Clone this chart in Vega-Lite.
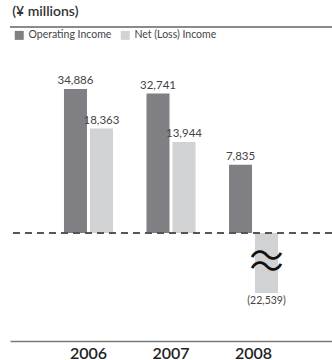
{
  "$schema": "https://vega.github.io/schema/vega-lite/v6.json",
  "width": 322,
  "height": 268,
  "autosize": "none",
  "padding": {"left": 10, "top": 25, "right": 0, "bottom": 67},
  "background": "white",
  "title": {"text": "(¥ millions)", "anchor": "start", "dx": 3, "offset": 6, "fontSize": 14, "fontWeight": 600, "font": "Lato", "color": "#333"},
  "data": {"values": [
    {"year": "2006", "series": "Operating Income", "value": 34886},
    {"year": "2006", "series": "Net (Loss) Income", "value": 18363},
    {"year": "2007", "series": "Operating Income", "value": 32741},
    {"year": "2007", "series": "Net (Loss) Income", "value": 13944},
    {"year": "2008", "series": "Operating Income", "value": 7835},
    {"year": "2008", "series": "Net (Loss) Income", "value": -22539}
  ]},
  "transform": [
    {"calculate": "datum.value < 0 ? '(' + format(-datum.value, ',') + ')' : format(datum.value, ',')", "as": "label"}
  ],
  "layer": [
    {
      "mark": {"type": "bar"},
      "encoding": {
        "x": {"field": "year", "type": "nominal", "scale": {"paddingInner": 0.406, "paddingOuter": 0.654},
              "axis": {"orient": "bottom", "offset": 48, "title": null, "labelAngle": 0, "ticks": false, "domainColor": "#7a7a7a", "domainWidth": 1.5, "labelFont": "Lato", "labelFontSize": 16, "labelFontWeight": 600, "labelColor": "#222", "labelPadding": 4}},
        "xOffset": {"field": "series", "sort": ["Operating Income", "Net (Loss) Income"], "scale": {"paddingInner": 0.115, "paddingOuter": 0}},
        "y": {"field": "value", "type": "quantitative", "scale": {"type": "sqrt", "domain": [-6055, 72800], "clamp": true, "nice": false}, "axis": null},
        "color": {"field": "series", "type": "nominal", "sort": ["Operating Income", "Net (Loss) Income"],
                  "scale": {"domain": ["Operating Income", "Net (Loss) Income"], "range": ["#808084", "#d1d2d4"]},
                  "legend": {"title": null, "orient": "none", "legendX": 4, "legendY": 5, "direction": "horizontal", "symbolType": "square", "symbolSize": 81, "symbolStrokeWidth": 0, "labelFont": "Lato", "labelFontSize": 10.5, "labelColor": "#444", "columnPadding": 8, "labelOffset": 4, "padding": 0}}
      }
    },
    {
      "mark": {"type": "rule", "color": "#8a8a8a", "strokeWidth": 1.5},
      "encoding": {"y": {"datum": 71500}}
    },
    {
      "mark": {"type": "rule", "color": "#555", "strokeWidth": 1.2, "strokeDash": [7, 5]},
      "encoding": {"y": {"datum": 0}}
    },
    {
      "transform": [{"filter": "datum.value > 0"}],
      "mark": {"type": "text", "baseline": "bottom", "dy": -3, "font": "Lato", "fontSize": 11.5, "color": "#444"},
      "encoding": {
        "x": {"field": "year", "type": "nominal"},
        "xOffset": {"field": "series", "sort": ["Operating Income", "Net (Loss) Income"]},
        "y": {"field": "value", "type": "quantitative"},
        "text": {"field": "label"}
      }
    },
    {
      "transform": [{"filter": "datum.value < 0"}],
      "mark": {"type": "text", "baseline": "top", "dy": 3, "font": "Lato", "fontSize": 10.5, "color": "#444"},
      "encoding": {
        "x": {"field": "year", "type": "nominal"},
        "xOffset": {"field": "series", "sort": ["Operating Income", "Net (Loss) Income"]},
        "y": {"field": "value", "type": "quantitative"},
        "text": {"field": "label"}
      }
    },
    {
      "transform": [{"filter": "datum.value < 0"}],
      "mark": {"type": "text", "baseline": "middle", "dy": -35, "font": "Noto Sans CJK JP", "fontSize": 34, "color": "#111", "text": "〜"},
      "encoding": {
        "x": {"field": "year", "type": "nominal"},
        "xOffset": {"field": "series", "sort": ["Operating Income", "Net (Loss) Income"]},
        "y": {"field": "value", "type": "quantitative"}
      }
    },
    {
      "transform": [{"filter": "datum.value < 0"}],
      "mark": {"type": "text", "baseline": "middle", "dy": -24, "font": "Noto Sans CJK JP", "fontSize": 34, "color": "#111", "text": "〜"},
      "encoding": {
        "x": {"field": "year", "type": "nominal"},
        "xOffset": {"field": "series", "sort": ["Operating Income", "Net (Loss) Income"]},
        "y": {"field": "value", "type": "quantitative"}
      }
    }
  ],
  "config": {"view": {"stroke": null}, "axis": {"grid": false}}
}
